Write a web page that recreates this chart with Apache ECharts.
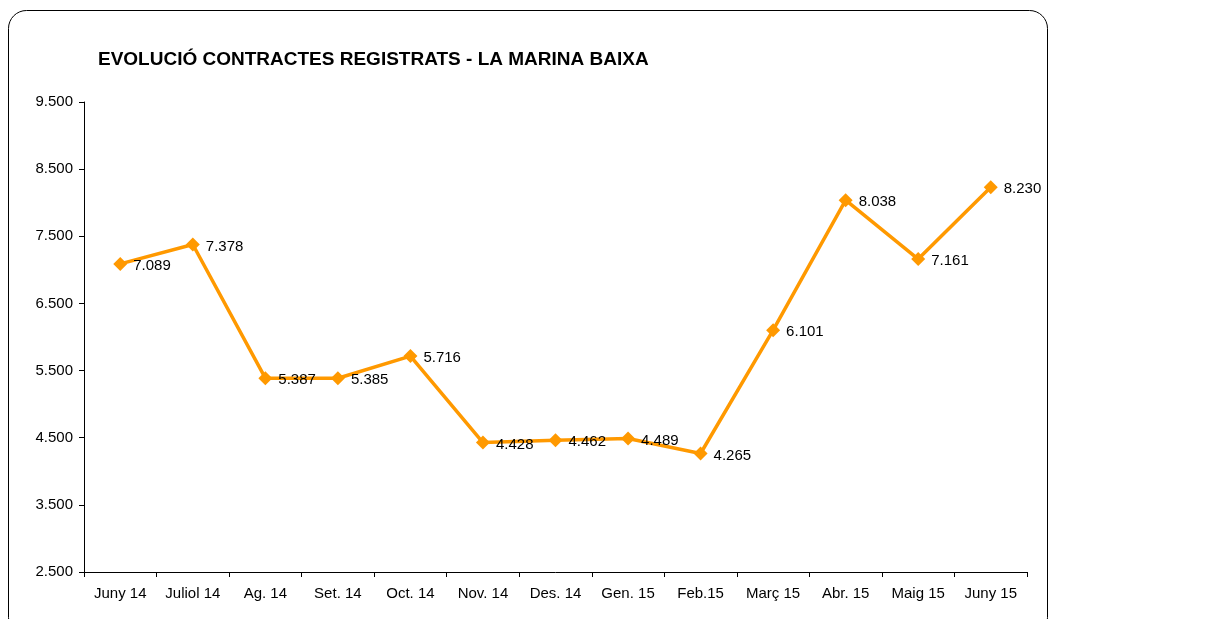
<!DOCTYPE html>
<html>
<head>
<meta charset="utf-8">
<script src="https://cdn.jsdelivr.net/npm/echarts@6/dist/echarts.min.js"></script>
<style>
  html, body { margin: 0; padding: 0; background: #fff; }
  #chart { width: 1232px; height: 619px; }
</style>
</head>
<body>
<div id="chart"></div>
<script>
// Dades del gràfic
const months = ['Juny 14', 'Juliol 14', 'Ag. 14', 'Set. 14', 'Oct. 14', 'Nov. 14', 'Des. 14', 'Gen. 15', 'Feb.15', 'Març 15', 'Abr. 15', 'Maig 15', 'Juny 15'];
const contracts = [7089, 7378, 5387, 5385, 5716, 4428, 4462, 4489, 4265, 6101, 8038, 7161, 8230];
const yMin = 2500;
const yMax = 9500;
const yStep = 1000;

// separador de milers amb punt
function fmt(v) {
    return String(v).replace(/\B(?=(\d{3})+(?!\d))/g, '.');
}

const chart = echarts.init(document.getElementById('chart'));

chart.setOption({
    backgroundColor: '#fff',
    animation: false,
    textStyle: { fontFamily: 'Liberation Sans, Arial, sans-serif' },
    title: {
        text: 'EVOLUCIÓ CONTRACTES REGISTRATS - LA MARINA BAIXA',
        left: 93, top: 45,
        textStyle: { fontSize: 19, fontWeight: 'bold', color: '#000', fontFamily: 'Liberation Sans, Arial, sans-serif' }
    },
    graphic: [{
        type: 'rect',
        shape: { x: 8.5, y: 10.5, width: 1039, height: 625, r: 18 },
        style: { fill: 'none', stroke: '#000', lineWidth: 1 },
        z: -1
    }],
    grid: { left: 84, right: 205, top: 102, bottom: 47 },
    xAxis: {
        type: 'category',
        data: months,
        boundaryGap: true,
        axisLine: { lineStyle: { color: '#000', width: 1 } },
        axisTick: { show: true, alignWithLabel: false, length: 5, lineStyle: { color: '#000' } },
        axisLabel: { color: '#000', fontSize: 15, margin: 14, interval: 0 },
        splitLine: { show: false }
    },
    yAxis: {
        type: 'value',
        min: yMin, max: yMax, interval: yStep,
        axisLine: { show: true, lineStyle: { color: '#000', width: 1 } },
        axisTick: { show: true, length: 5, lineStyle: { color: '#000' } },
        axisLabel: { color: '#000', fontSize: 15, margin: 11, formatter: fmt },
        splitLine: { show: false }
    },
    series: [{
        type: 'line',
        data: contracts,
        color: '#FF9900',
        lineStyle: { width: 3.5, color: '#FF9900' },
        symbol: 'diamond',
        symbolSize: 14,
        itemStyle: { color: '#FF9900' },
        label: {
            show: true,
            position: 'right',
            distance: 6,
            offset: [0, 2],
            color: '#000',
            fontSize: 15,
            formatter: p => fmt(p.value)
        }
    }]
});
</script>
</body>
</html>
